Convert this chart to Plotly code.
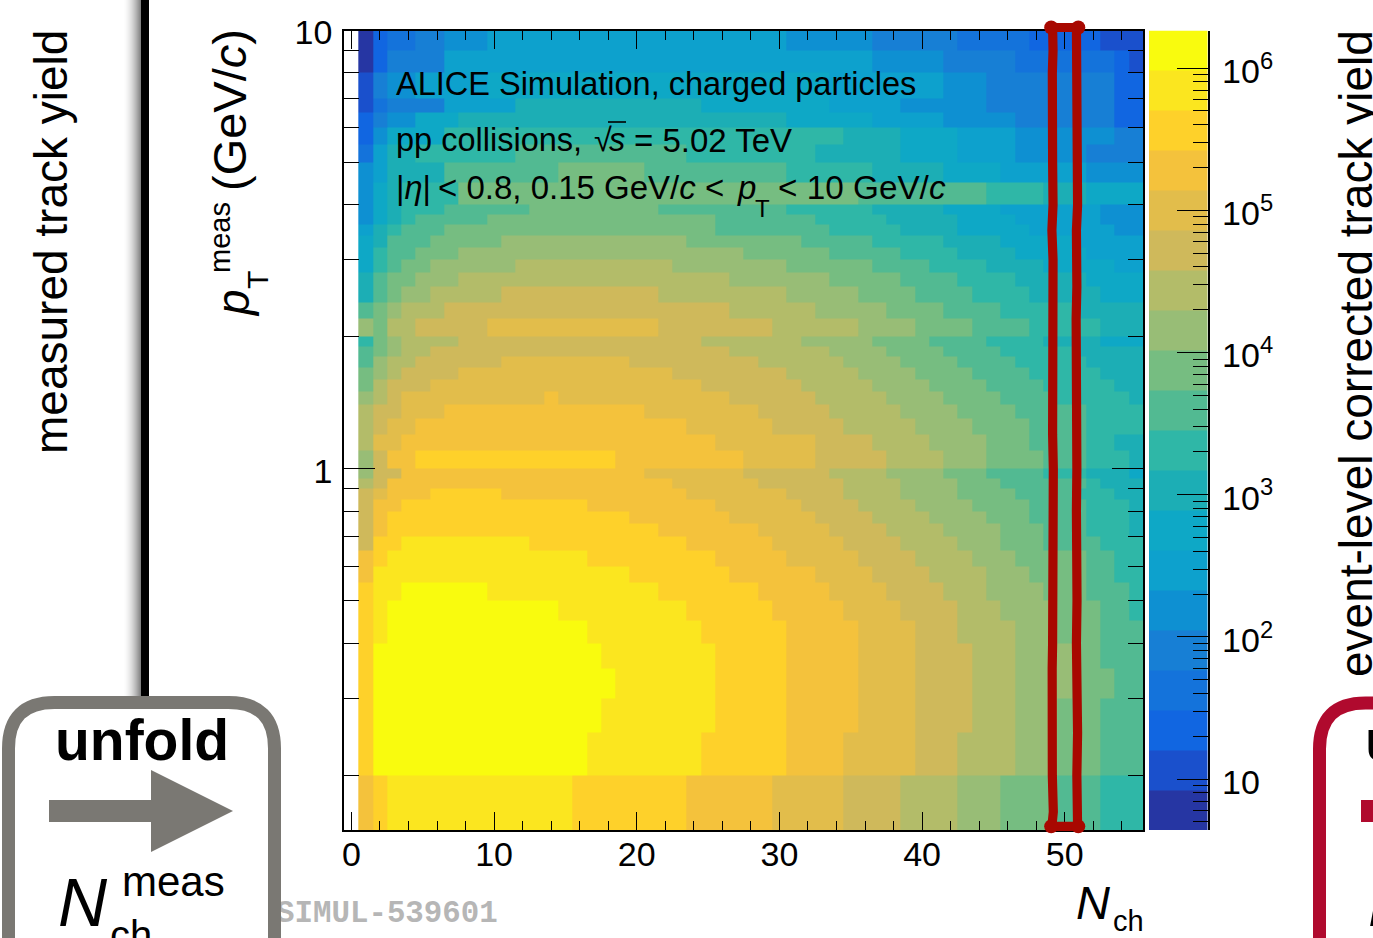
import math
import plotly.graph_objects as go

W, H = 1373, 938

# ---- data -----------------------------------------------------------------
PT_EDGES = [0.15, 0.2, 0.25, 0.3, 0.35, 0.4, 0.45, 0.5, 0.55, 0.6, 0.65, 0.7, 0.75, 0.8, 0.85, 0.9, 0.95, 1.0,
            1.1, 1.2, 1.3, 1.4, 1.5, 1.6, 1.7, 1.8, 1.9, 2.0,
            2.2, 2.4, 2.6, 2.8, 3.0, 3.2, 3.4, 3.6, 3.8, 4.0,
            4.5, 5.0, 5.5, 6.0, 6.5, 7.0, 8.0, 9.0, 10.0]
NCH_EDGES = [i - 0.5 for i in range(57)]

# every pT row, bottom to top: {first Nch bin of a run: colour level of the run}
YIELD_RUNS = [
    {1:16, 2:17, 3:18, 16:17, 24:16, 30:15, 35:14, 39:13, 43:12, 46:11, 50:10, 53:9},
    {1:17, 2:19, 17:18, 25:17, 31:16, 35:15, 40:14, 43:13, 47:12, 50:11, 53:10},
    {1:17, 2:19, 18:18, 26:17, 31:16, 36:15, 40:14, 44:13, 47:12, 50:11, 53:10},
    {1:17, 2:19, 19:18, 26:17, 31:16, 36:15, 40:14, 44:13, 47:12, 51:11, 54:10},
    {1:17, 2:19, 18:18, 26:17, 31:16, 36:15, 40:14, 44:13, 47:12, 51:11, 53:10},
    {1:17, 2:18, 3:19, 17:18, 25:17, 31:16, 36:15, 40:14, 43:13, 47:12, 50:11, 53:10},
    {1:17, 2:18, 3:19, 15:18, 24:17, 30:16, 35:15, 39:14, 43:13, 46:12, 50:11, 53:10, 55:9},
    {1:17, 2:18, 4:19, 10:18, 22:17, 29:16, 34:15, 38:14, 42:13, 45:12, 49:11, 52:10, 55:9},
    {1:16, 2:18, 20:17, 27:16, 33:15, 37:14, 41:13, 45:12, 48:11, 52:10, 54:9},
    {1:16, 2:17, 3:18, 17:17, 26:16, 31:15, 36:14, 40:13, 44:12, 47:11, 52:10, 54:9},
    {1:14, 2:17, 4:18, 13:17, 24:16, 30:15, 35:14, 39:13, 43:12, 46:11, 49:10, 53:9},
    {1:14, 2:16, 3:17, 22:16, 29:15, 34:14, 38:13, 42:12, 46:11, 49:10, 52:9, 55:8},
    {1:14, 2:16, 3:17, 20:16, 27:15, 33:14, 37:13, 41:12, 45:11, 48:10, 52:9, 55:8},
    {1:14, 2:16, 4:17, 17:16, 26:15, 32:14, 36:13, 40:12, 44:11, 48:10, 52:9, 55:8},
    {1:14, 2:15, 3:16, 6:17, 11:16, 24:15, 31:14, 35:13, 39:12, 43:11, 47:10, 51:9, 54:8},
    {1:13, 2:14, 3:16, 23:15, 29:14, 35:13, 39:12, 43:11, 46:10, 52:9, 53:8},
    {1:12, 2:14, 4:16, 21:15, 28:14, 34:13, 38:12, 42:11, 45:10, 49:9, 52:8, 55:7},
    {1:12, 2:14, 3:16, 5:17, 19:16, 28:15, 33:14, 38:13, 42:12, 45:11, 49:10, 52:9, 55:8},
    {1:13, 2:15, 4:16, 26:15, 33:14, 37:13, 41:12, 45:11, 48:10, 52:9, 54:8},
    {1:13, 2:14, 3:15, 5:16, 24:15, 30:14, 35:13, 40:12, 44:11, 48:10, 52:9},
    {1:13, 2:14, 4:15, 7:16, 21:15, 29:14, 34:13, 39:12, 43:11, 47:10, 52:9},
    {1:12, 2:13, 3:14, 4:15, 14:16, 15:15, 27:14, 33:13, 38:12, 42:11, 46:10, 50:9, 55:8},
    {1:11, 2:13, 3:14, 6:15, 25:14, 32:13, 37:12, 41:11, 45:10, 49:9, 54:8},
    {1:11, 2:12, 3:13, 4:14, 8:15, 23:14, 31:13, 36:12, 40:11, 44:10, 48:9, 53:8},
    {1:10, 2:12, 3:13, 5:14, 11:15, 20:14, 29:13, 35:12, 39:11, 43:10, 47:9, 52:8},
    {1:10, 2:11, 3:12, 4:13, 6:14, 27:13, 34:12, 38:11, 42:10, 46:9, 51:8},
    {1:9, 2:11, 3:12, 4:13, 8:14, 25:13, 32:12, 37:11, 41:10, 45:9, 49:8, 53:7},
    {1:12, 2:11, 3:13, 5:14, 10:15, 22:14, 30:13, 36:12, 40:11, 44:10, 48:9, 53:8},
    {1:10, 2:11, 3:12, 4:13, 7:14, 27:13, 33:12, 38:11, 42:10, 46:9, 51:8},
    {1:8, 2:10, 3:11, 4:12, 6:13, 11:14, 22:13, 31:12, 36:11, 40:10, 44:9, 48:8, 53:7},
    {1:8, 2:10, 3:11, 5:12, 8:13, 27:12, 34:11, 39:10, 43:9, 47:8, 52:7},
    {1:7, 2:9, 3:10, 4:11, 6:12, 12:13, 23:12, 31:11, 37:10, 41:9, 45:8, 49:7, 54:6},
    {1:7, 2:9, 3:10, 5:11, 8:12, 28:11, 34:10, 39:9, 43:8, 47:7, 52:6},
    {1:7, 2:8, 3:10, 6:11, 11:12, 24:11, 32:10, 37:9, 42:8, 46:7, 51:6},
    {1:6, 2:8, 3:9, 4:10, 7:11, 26:10, 34:9, 39:8, 43:7, 48:6, 54:5},
    {1:5, 2:7, 3:8, 4:9, 5:10, 10:11, 26:10, 33:9, 38:8, 43:7, 47:6, 53:5},
    {1:5, 2:7, 3:8, 4:9, 7:10, 13:11, 22:10, 31:9, 37:8, 42:7, 46:6, 53:5},
    {1:5, 2:7, 3:8, 4:9, 8:11, 36:10, 45:9, 49:8, 52:7},
    {1:5, 2:6, 3:8, 7:10, 15:11, 21:10, 31:9, 37:8, 42:7, 46:6, 52:5},
    {1:3, 2:6, 3:8, 5:9, 12:10, 24:9, 33:8, 39:7, 43:6, 47:5, 52:4},
    {1:2, 2:5, 3:7, 7:9, 35:8, 39:7, 43:6, 47:5, 54:4},
    {1:2, 2:4, 3:5, 5:7, 8:8, 31:7, 37:6, 42:5, 47:4, 54:2},
    {1:1, 2:3, 3:4, 7:6, 12:8, 25:7, 34:6, 39:5, 45:4, 54:2},
    {1:1, 2:4, 3:5, 5:6, 10:7, 34:6, 42:5, 45:4, 54:2},
    {1:0, 2:2, 3:4, 7:6, 37:5, 42:4, 47:3, 54:2, 55:1},
    {1:0, 2:2, 3:3, 5:4, 7:5, 10:6, 31:5, 37:4, 43:3, 48:2, 53:1},
]

PALETTE = ["#2636A3", "#1A50CC", "#1166E1", "#1473DB", "#177FD5", "#0E90D2", "#0DA1CD", "#0EA8C6",
           "#1CAEB5", "#2FB7A7", "#52BA92", "#76BD81", "#98BD76", "#B3BC69", "#CFB95B", "#E2BD4B",
           "#F4C23C", "#FED12A", "#FBE61F", "#F9FB0E"]

BAR_MIN_DECADE, BAR_MAX_DECADE = 0.642, 6.265
BAR_MAJOR = [10, 100, 1000, 10000, 100000, 1000000]
BAR_LABELS = ["10", "10<sup>2</sup>", "10<sup>3</sup>", "10<sup>4</sup>", "10<sup>5</sup>", "10<sup>6</sup>"]
BAR_MINOR = [5, 6, 7, 8, 9, 20, 30, 40, 50, 60, 70, 80, 90, 200, 300, 400, 500, 600, 700, 800, 900,
             2000, 3000, 4000, 5000, 6000, 7000, 8000, 9000, 20000, 30000, 40000, 50000, 60000, 70000, 80000, 90000,
             200000, 300000, 400000, 500000, 600000, 700000, 800000, 900000]

NCH_TICKS = [0, 10, 20, 30, 40, 50]
PT_TICKS = [1, 10]
PT_TICK_TEXT = ["1", "10"]
PT_MINOR = [0.2, 0.3, 0.4, 0.5, 0.6, 0.7, 0.8, 0.9, 2, 3, 4, 5, 6, 7, 8, 9]

# hand-drawn red outline round the Nch = 50 bin
RED_PT = [0.1529, 0.165, 0.2, 0.25, 0.3, 0.35, 0.4, 0.5, 0.6, 0.7, 0.8, 1.0, 1.2, 1.5, 1.8, 2.2, 2.6, 3.0, 3.5, 4.0, 5.0, 6.0, 7.0, 8.0, 9.0, 10.16]
RED_LEFT = [49.1, 49.2, 49.13, 49.08, 49.2, 49.12, 49.15, 49.2, 49.12, 49.18, 49.15, 49.2, 49.15, 49.18, 49.13, 49.2, 49.12, 49.18, 49.1, 49.18, 49.15, 49.1, 49.15, 49.13, 49.18, 49.15]
RED_RIGHT = [50.9, 50.78, 50.85, 50.9, 50.82, 50.88, 50.82, 50.86, 50.82, 50.86, 50.82, 50.85, 50.88, 50.82, 50.85, 50.8, 50.85, 50.88, 50.82, 50.9, 50.85, 50.85, 50.8, 50.82, 50.85, 50.82]
RED_CORNER_NCH = [49.05, 50.95, 49.05, 50.95]
RED_CORNER_PT = [0.1529, 0.1529, 10.16, 10.16]

# ---- plot geometry ---------------------------------------------------------
LEFT, RIGHT, TOP, BOTTOM = 344.3, 1143.2, 30.5, 830.0
BAR_L, BAR_R = 1149.0, 1207.5
def fx(x): return x / W
def fy(y): return 1 - y / H

# ---- expand the rows -------------------------------------------------------
z = []
for runs in YIELD_RUNS:
    row = [None] * 56
    level = None
    for col in range(56):
        if col in runs:
            level = runs[col]
        row[col] = None if level is None else level + 0.5
    z.append(row)

scale = []
for i, c in enumerate(PALETTE):
    scale += [[i / 20, c], [(i + 1) / 20, c]]

fig = go.Figure()
fig.add_trace(go.Heatmap(x=NCH_EDGES, y=PT_EDGES, z=z, zmin=0, zmax=20, colorscale=scale,
                         showscale=False, hoverongaps=False, xaxis="x", yaxis="y"))

band_step = (BAR_MAX_DECADE - BAR_MIN_DECADE) / 20
bar_edges = [10 ** (BAR_MIN_DECADE + i * band_step) for i in range(21)]
fig.add_trace(go.Heatmap(x=[0, 1], y=bar_edges, z=[[i + 0.5] for i in range(20)], zmin=0, zmax=20,
                         colorscale=scale, showscale=False, xaxis="x2", yaxis="y2"))

RED = "#A80800"
fig.add_trace(go.Scatter(x=RED_LEFT + RED_RIGHT[::-1] + RED_LEFT[:1], y=RED_PT + RED_PT[::-1] + RED_PT[:1],
                         mode="lines", line=dict(color=RED, width=9.2), cliponaxis=False,
                         xaxis="x4", yaxis="y4", showlegend=False))
fig.add_trace(go.Scatter(x=RED_CORNER_NCH, y=RED_CORNER_PT, mode="markers", cliponaxis=False,
                         marker=dict(color=RED, size=14), xaxis="x4", yaxis="y4", showlegend=False))

# watermark goes on the full-page axes so that the grey box can cover its first letter
fig.add_trace(go.Scatter(x=[276], y=[914], mode="text", text=["<b>SIMUL-539601</b>"], textposition="middle right",
                         textfont=dict(family="Liberation Mono", size=30.8, color="#B6B6B6"),
                         cliponaxis=False, xaxis="x3", yaxis="y3", showlegend=False))

TICK_FONT = dict(family="Liberation Sans", size=34, color="black")
main_x = dict(range=[-0.5, 55.5], tickmode="array", tickvals=NCH_TICKS, ticks="inside", ticklen=18, tickwidth=1.4,
              tickcolor="black", mirror="ticks", showline=True, linewidth=2.2, linecolor="black", showgrid=False,
              zeroline=False, tickfont=TICK_FONT, ticklabelstandoff=-7, automargin=False,
              minor=dict(dtick=2, tick0=0, ticks="inside", ticklen=9, tickwidth=1.4, tickcolor="black", showgrid=False),
              domain=[fx(LEFT), fx(RIGHT)], anchor="y")
PT_RANGE = [math.log10(0.15), 1]
main_y = dict(type="log", range=PT_RANGE, tickmode="array", tickvals=PT_TICKS, ticktext=PT_TICK_TEXT, ticks="inside",
              ticklen=31, tickwidth=1.4, tickcolor="black", mirror="ticks", showline=True, linewidth=2.2,
              linecolor="black", showgrid=False, zeroline=False, tickfont=TICK_FONT, ticklabelstandoff=3, automargin=False,
              ticklabelshift=2,
              minor=dict(tickmode="array", tickvals=PT_MINOR, ticks="inside", ticklen=15, tickwidth=1.4,
                         tickcolor="black", showgrid=False),
              domain=[fy(BOTTOM), fy(TOP)], anchor="x")

# an invisible copy of the main axes, with room round it, carries the red outline above the frame
PAD_TOP, PAD_BOTTOM = 20.0, 20.0
px_per_decade = (BOTTOM - TOP) / (PT_RANGE[1] - PT_RANGE[0])
red_range = [PT_RANGE[0] - PAD_BOTTOM / px_per_decade, PT_RANGE[1] + PAD_TOP / px_per_decade]

fig.update_layout(
    template="none",
    width=W, height=H, margin=dict(l=0, r=0, t=0, b=0, pad=0), paper_bgcolor="white", plot_bgcolor="rgba(0,0,0,0)",
    showlegend=False, font=dict(family="Liberation Sans", color="black"),
    xaxis=main_x, yaxis=main_y,
    xaxis2=dict(domain=[fx(BAR_L), fx(BAR_R)], range=[0, 1], visible=False, anchor="y2", automargin=False),
    yaxis2=dict(type="log", range=[BAR_MIN_DECADE, BAR_MAX_DECADE], domain=[fy(BOTTOM), fy(TOP)], side="right", anchor="x2",
                tickmode="array", tickvals=BAR_MAJOR, ticktext=BAR_LABELS, ticks="inside", ticklen=31, tickwidth=1.4,
                tickcolor="black", showline=True, linewidth=1.5, linecolor="black", showgrid=False, zeroline=False,
                tickfont=TICK_FONT, ticklabelstandoff=6, ticklabelshift=3, automargin=False,
                minor=dict(tickmode="array", tickvals=BAR_MINOR, ticks="inside", ticklen=15, tickwidth=1.4,
                           tickcolor="black", showgrid=False)),
    xaxis3=dict(domain=[0, 1], range=[0, W], visible=False, anchor="y3", automargin=False),
    yaxis3=dict(domain=[0, 1], range=[H, 0], visible=False, anchor="x3", automargin=False),
    xaxis4=dict(domain=[fx(LEFT), fx(RIGHT)], range=[-0.5, 55.5], visible=False, anchor="y4", automargin=False),
    yaxis4=dict(type="log", domain=[fy(BOTTOM + PAD_BOTTOM), fy(TOP - PAD_TOP)], range=red_range,
                visible=False, anchor="x4", automargin=False),
)

# ---- decoration of the surrounding slide ----------------------------------
GREY, CRIMSON = "#7A7873", "#B00A2E"
shapes = []
def page_shape(**kw):
    shapes.append(dict(xref="x3", yref="y3", **kw))

for i in range(18):                 # soft shadow beside the black bar
    g = 255 - int(125 * ((i + 1) / 18) ** 1.8)
    page_shape(type="rect", x0=123 + i, x1=124 + i, y0=0, y1=700, fillcolor=f"rgb({g},{g},{g})", line_width=0, layer="below")
page_shape(type="rect", x0=141, x1=149, y0=0, y1=700, fillcolor="black", line_width=0, layer="below")

def round_box(l, t, r, b, rad):
    return (f"M {l} {b} L {l} {t+rad} Q {l} {t} {l+rad} {t} L {r-rad} {t} Q {r} {t} {r} {t+rad} L {r} {b}")

page_shape(type="path", path=round_box(8.5, 702.5, 274.5, 960, 46), line=dict(color=GREY, width=13), layer="above")
page_shape(type="path", path="M 49 800 L 151 800 L 151 770 L 233 811 L 151 852 L 151 822 L 49 822 Z",
           fillcolor=GREY, line_width=0, layer="above")
page_shape(type="path", path=round_box(1319.5, 703, 1500, 960, 46), line=dict(color=CRIMSON, width=13), layer="above")
page_shape(type="rect", x0=1361, x1=1373, y0=800, y1=822, fillcolor=CRIMSON, line_width=0, layer="above")
page_shape(type="line", x0=608, x1=626, y0=122, y1=122, line=dict(color="black", width=1.6), layer="above")

annots = []
def text(x, y, s, size, xanchor="left", angle=0, yanchor="middle", **font):
    annots.append(dict(x=fx(x), y=fy(y), xref="paper", yref="paper", text=s, showarrow=False, xanchor=xanchor,
                       yanchor=yanchor, textangle=angle, borderpad=0, borderwidth=0,
                       font=dict(family=font.get("family", "Liberation Sans"), size=size, color=font.get("color", "black"))))

text(396, 84, "ALICE Simulation, charged particles", 32.5)
text(396, 140, "pp collisions,", 32.5)
text(594, 140, "√", 32.5)
text(609, 140, "<i>s</i>", 32.5)
text(634, 140, "= 5.02 TeV", 33)
text(396, 188, "|<i>η</i>|", 32.5)
text(438, 188, "&lt; 0.8, 0.15 GeV/<i>c</i> &lt;", 33)
text(737, 188, "<i>p</i>", 33)
text(763, 208, "T", 24, xanchor="center")
text(778, 188, "&lt; 10 GeV/<i>c</i>", 33.3)

text(51, 242, "measured track yield", 46, xanchor="center", angle=-90)
text(1356, 354, "event-level corrected track yield", 46, xanchor="center", angle=-90)

text(233, 303, "<i>p</i>", 46, xanchor="center", angle=-90)
text(220, 238, "meas", 29, xanchor="center", angle=-90)
text(257, 280, "T", 30, xanchor="center", angle=-90)
text(230, 110, "(GeV/<i>c</i>)", 47, xanchor="center", angle=-90)

text(1076, 902, "<i>N</i>", 47)
text(1113, 921, "ch", 29)

text(142, 740, "<b>unfold</b>", 57, xanchor="center")
text(58, 902, "<i>N</i>", 68)
text(122, 881, "meas", 42)
text(110, 935, "ch", 40)
text(1365, 740, "<b>unfold</b>", 57)
text(1368, 902, "<i>N</i>", 68)

fig.update_layout(shapes=shapes, annotations=annots)
fig.write_html("out.html", config=dict(displayModeBar=False),
               post_script="document.body.style.margin='0';document.body.style.overflow='hidden';")
